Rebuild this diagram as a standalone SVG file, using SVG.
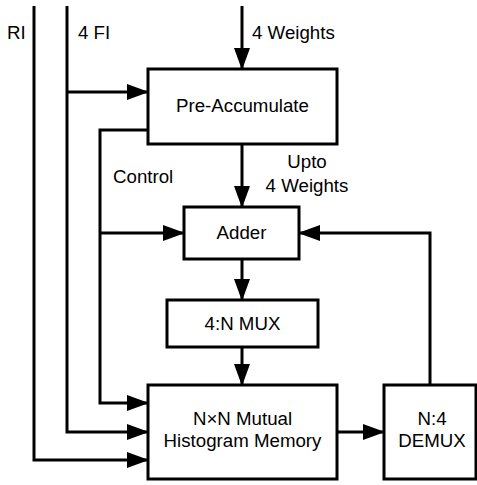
<svg xmlns="http://www.w3.org/2000/svg" width="477" height="485" viewBox="0 0 477 485">
  <style>
    .box { fill: #fff; stroke: #000; stroke-width: 3; }
    .wire { fill: none; stroke: #000; stroke-width: 3; }
    text { font-family: "Liberation Sans", Arial, sans-serif; font-size: 18.7px; fill: #000; }
    .c { text-anchor: middle; }
  </style>
  <defs>
    <marker id="arrow" markerUnits="userSpaceOnUse" markerWidth="22" markerHeight="16" refX="21" refY="8" orient="auto">
      <path d="M0,0 L22,8 L0,16 z" fill="#000"/>
    </marker>
  </defs>

  <rect width="477" height="485" fill="#fff"/>

  <g id="connectors">
    <!-- RI bus to memory -->
    <path class="wire" d="M34,6 V460 H148" marker-end="url(#arrow)"/>
    <!-- 4 FI bus to memory, with branch to pre-accumulate -->
    <path class="wire" d="M67,6 V432 H148" marker-end="url(#arrow)"/>
    <path class="wire" d="M67,92 H148" marker-end="url(#arrow)"/>
    <!-- control from pre-accumulate -->
    <path class="wire" d="M148,130 H100 V403 H148" marker-end="url(#arrow)"/>
    <path class="wire" d="M100,233 H184" marker-end="url(#arrow)"/>
    <!-- weights path -->
    <path class="wire" d="M242,6 V69" marker-end="url(#arrow)"/>
    <path class="wire" d="M242,144 V207" marker-end="url(#arrow)"/>
    <path class="wire" d="M242,259 V300" marker-end="url(#arrow)"/>
    <path class="wire" d="M242,347 V385" marker-end="url(#arrow)"/>
    <!-- memory to demux, demux feedback to adder -->
    <path class="wire" d="M337,432 H384" marker-end="url(#arrow)"/>
    <path class="wire" d="M430,385 V233 H299" marker-end="url(#arrow)"/>
  </g>

  <g id="labels">
    <text x="7" y="39">RI</text>
    <text x="78" y="39">4 FI</text>
    <text x="252" y="39">4 Weights</text>
    <text x="113" y="183">Control</text>
    <text class="c" x="307" y="168">Upto</text>
    <text class="c" x="307" y="192">4 Weights</text>
  </g>

  <g id="pre-accumulate">
    <rect class="box" x="148" y="69" width="189" height="75"/>
    <text class="c" x="242.5" y="112">Pre-Accumulate</text>
  </g>

  <g id="adder">
    <rect class="box" x="184" y="207" width="115" height="52"/>
    <text class="c" x="241.5" y="239">Adder</text>
  </g>

  <g id="mux">
    <rect class="box" x="167" y="300" width="151" height="47"/>
    <text class="c" x="242.5" y="330">4:N MUX</text>
  </g>

  <g id="memory">
    <rect class="box" x="148" y="385" width="189" height="94"/>
    <text class="c" x="242.5" y="425">N×N Mutual</text>
    <text class="c" x="242.5" y="447">Histogram Memory</text>
  </g>

  <g id="demux">
    <rect class="box" x="384" y="385" width="92" height="94"/>
    <text class="c" x="432" y="425">N:4</text>
    <text class="c" x="432" y="447">DEMUX</text>
  </g>
</svg>
